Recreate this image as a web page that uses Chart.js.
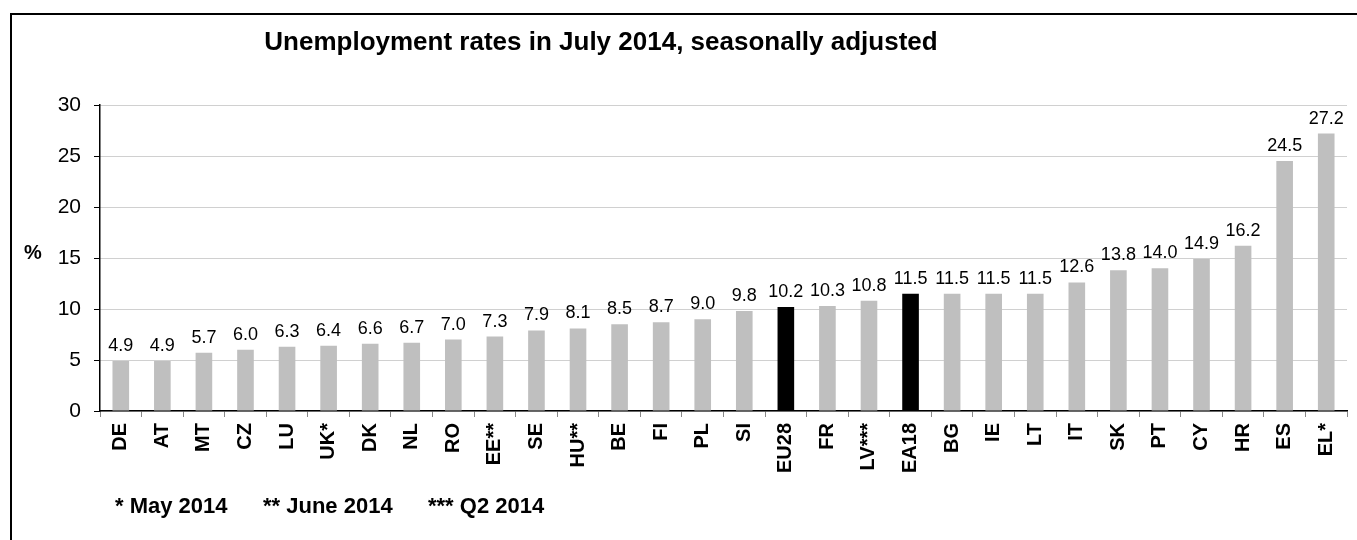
<!DOCTYPE html>
<html>
<head>
<meta charset="utf-8">
<script src="https://cdn.jsdelivr.net/npm/chart.js@4.4.1/dist/chart.umd.min.js"></script>
<style>
    html, body { margin: 0; padding: 0; background: #fff; }
    #wrap { position: relative; width: 1357px; height: 540px; overflow: hidden; }
    #frame { position: absolute; left: 10px; top: 13px; width: 1400px; height: 600px;
             border-left: 2px solid #000; border-top: 2px solid #000; }
    canvas { position: absolute; left: 0; top: 0; }
</style>
</head>
<body>
<div id="wrap">
    <div id="frame"></div>
    <canvas id="chart" width="1357" height="540"></canvas>
</div>
<script>
// Chart data
const countries = ['DE', 'AT', 'MT', 'CZ', 'LU', 'UK*', 'DK', 'NL', 'RO', 'EE**', 'SE', 'HU**', 'BE', 'FI', 'PL',
    'SI', 'EU28', 'FR', 'LV***', 'EA18', 'BG', 'IE', 'LT', 'IT', 'SK', 'PT', 'CY', 'HR', 'ES', 'EL*'];
const rates = [4.9, 4.9, 5.7, 6.0, 6.3, 6.4, 6.6, 6.7, 7.0, 7.3, 7.9, 8.1, 8.5, 8.7, 9.0,
    9.8, 10.2, 10.3, 10.8, 11.5, 11.5, 11.5, 11.5, 12.6, 13.8, 14.0, 14.9, 16.2, 24.5, 27.2];
const aggregates = ['EU28', 'EA18'];
const yTicks = [0, 5, 10, 15, 20, 25, 30];
const titleText = 'Unemployment rates in July 2014, seasonally adjusted';
const footnotes = ['* May 2014', '** June 2014', '*** Q2 2014'];

const FONT = "'Liberation Sans', Arial, sans-serif";

const barColors = countries.map(c => aggregates.includes(c) ? '#000000' : '#bfbfbf');

// Value labels above bars + title, % label and footnotes
const extrasPlugin = {
    id: 'extras',
    afterDatasetsDraw(chart) {
        const ctx = chart.ctx;
        const meta = chart.getDatasetMeta(0);
        ctx.save();
        ctx.fillStyle = '#000';
        ctx.font = '18px ' + FONT;
        ctx.textAlign = 'center';
        ctx.textBaseline = 'alphabetic';
        meta.data.forEach((bar, i) => {
            ctx.fillText(rates[i].toFixed(1), bar.x, bar.y - 10);
        });
        ctx.restore();
    },
    afterDraw(chart) {
        const ctx = chart.ctx;
        ctx.save();
        ctx.fillStyle = '#000';
        ctx.textBaseline = 'alphabetic';

        ctx.font = 'bold 26px ' + FONT;
        ctx.textAlign = 'center';
        ctx.fillText(titleText, 601, 50);

        ctx.font = 'bold 20px ' + FONT;
        ctx.textAlign = 'left';
        ctx.fillText('%', 24, 259);

        const footX = [115, 263, 428];
        ctx.font = 'bold 22px ' + FONT;
        footnotes.forEach((t, i) => ctx.fillText(t, footX[i], 513));
        ctx.restore();
    }
};

const ctx = document.getElementById('chart').getContext('2d');
new Chart(ctx, {
    type: 'bar',
    data: {
        labels: countries,
        datasets: [{
            data: rates,
            backgroundColor: barColors,
            barPercentage: 0.8,
            categoryPercentage: 0.5
        }]
    },
    options: {
        responsive: false,
        animation: false,
        layout: { padding: { top: 105, right: 10, left: 0, bottom: 0 } },
        plugins: {
            legend: { display: false },
            tooltip: { enabled: false },
            title: { display: false }
        },
        scales: {
            x: {
                grid: {
                    offset: true,
                    drawOnChartArea: false,
                    drawTicks: true,
                    tickLength: 6,
                    tickColor: '#888'
                },
                border: { color: '#000', width: 1.5 },
                ticks: {
                    color: '#000',
                    font: { family: FONT, size: 20, weight: 'bold' },
                    minRotation: 90,
                    maxRotation: 90,
                    autoSkip: false,
                    padding: 6
                },
                afterFit(scale) { scale.height = 129; }
            },
            y: {
                min: 0,
                max: 30,
                afterBuildTicks(scale) { scale.ticks = yTicks.map(v => ({ value: v })); },
                grid: {
                    color: '#a0a0a0',
                    tickColor: '#000',
                    tickLength: 6,
                    tickBorderDash: []
                },
                border: { color: '#000', width: 1.5, dash: [1, 1] },
                ticks: {
                    color: '#000',
                    font: { family: FONT, size: 21 },
                    padding: 13
                },
                afterFit(scale) { scale.width = 100; }
            }
        }
    },
    plugins: [extrasPlugin]
});
</script>
</body>
</html>
